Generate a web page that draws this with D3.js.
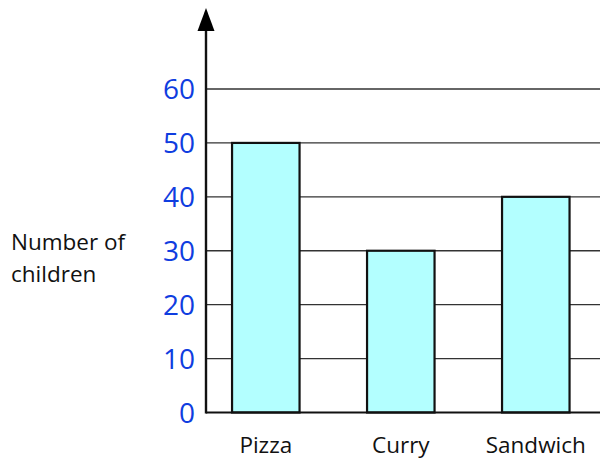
<!DOCTYPE html>
<html><head><meta charset="utf-8">
<script src="https://cdn.jsdelivr.net/npm/d3@7"></script>
<style>body{margin:0;background:#fff}</style>
</head><body>
<svg id="c" width="602" height="460"></svg>
<script>
const categories = ["Pizza", "Curry", "Sandwich"];
const values = [50, 30, 40];
const yTicks = [0, 10, 20, 30, 40, 50, 60];
const yLabel = ["Number of", "children"];

const svg = d3.select("#c");
const x0 = 206, xEnd = 600, yBase = 412.5;
const y = d3.scaleLinear().domain([0, 60]).range([yBase, 89]);
const x = d3.scaleBand().domain(categories).range([x0, 595.6]).paddingInner(0.5).paddingOuter(0.193);

// gridlines
svg.append("g").selectAll("line").data(yTicks.filter(d => d > 0)).join("line")
  .attr("x1", x0).attr("x2", xEnd)
  .attr("y1", d => y(d)).attr("y2", d => y(d))
  .attr("stroke", "#333").attr("stroke-width", 1.3);

// bars
svg.append("g").selectAll("rect").data(values).join("rect")
  .attr("x", (d, i) => x(categories[i]))
  .attr("width", x.bandwidth())
  .attr("y", d => y(d))
  .attr("height", d => yBase - y(d))
  .attr("fill", "#b3ffff").attr("stroke", "#111").attr("stroke-width", 2.2);

// baseline
svg.append("line").attr("x1", x0).attr("x2", xEnd).attr("y1", yBase).attr("y2", yBase)
  .attr("stroke", "#111").attr("stroke-width", 2.2);

// y axis with arrow
svg.append("line").attr("x1", x0).attr("x2", x0).attr("y1", yBase + 1).attr("y2", 28)
  .attr("stroke", "#111").attr("stroke-width", 2.4);
svg.append("path").attr("d", `M${x0},8 L${x0 - 8.5},31 L${x0 + 8.5},31 Z`).attr("fill", "#000");

// tick labels
svg.append("g").selectAll("text").data(yTicks).join("text")
  .attr("x", 195).attr("y", d => y(d) + 10)
  .attr("text-anchor", "end")
  .attr("font-family", "'Open Sans', sans-serif").attr("font-size", 28).attr("font-weight", 500)
  .attr("fill", "#0f3de0")
  .text(d => d);

// category labels
svg.append("g").selectAll("text").data(categories).join("text")
  .attr("x", d => x(d) + x.bandwidth() / 2).attr("y", 453)
  .attr("text-anchor", "middle")
  .attr("font-family", "'Open Sans', sans-serif").attr("font-size", 22.5)
  .attr("fill", "#111")
  .text(d => d);

// y label
svg.append("g").selectAll("text").data(yLabel).join("text")
  .attr("x", 11).attr("y", (d, i) => 250 + i * 32)
  .attr("font-family", "'Open Sans', sans-serif").attr("font-size", 22.5)
  .attr("fill", "#111")
  .text(d => d);
</script>
</body></html>
